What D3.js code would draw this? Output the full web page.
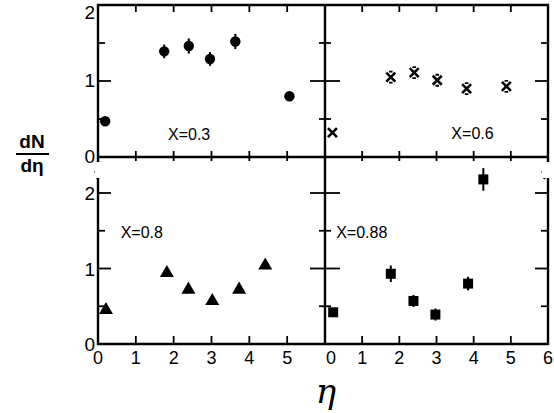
<!DOCTYPE html>
<html><head><meta charset="utf-8">
<script src="https://cdn.jsdelivr.net/npm/d3@7"></script>
<style>body{margin:0;background:#fff}svg{display:block}</style></head>
<body><svg id="c" width="554" height="413"></svg>
<script>
// ---- data ----
const xTickValues = [0,1,2,3,4,5,6];
const yMajorTicks = [0,1,2];
const yMinorTicks = [0.5,1.5];

const eta03 = [0.19,1.75,2.40,2.96,3.63,5.06];
const dn03  = [0.47,1.39,1.46,1.29,1.52,0.80];
const err03 = [0,0.09,0.10,0.09,0.10,0];

const eta06 = [0.20,1.77,2.40,3.02,3.81,4.88];
const dn06  = [0.32,1.05,1.11,1.01,0.90,0.93];
const err06 = [0,0.05,0.05,0.05,0.05,0.05];

const eta08 = [0.21,1.82,2.39,3.02,3.73,4.42];
const dn08  = [0.45,0.94,0.72,0.57,0.72,1.04];

const eta088 = [0.22,1.77,2.38,2.97,3.85,4.26];
const dn088  = [0.42,0.93,0.57,0.39,0.80,2.18];
const err088 = [0,0.11,0.08,0.08,0.09,0.15];

const panelLabels = ["X=0.3","X=0.6","X=0.8","X=0.88"];

// ---- layout ----
const svg = d3.select("#c");
const L = 98, M = 325, R = 548, T = 5, Y0top = 157, B = 344;
const xL = d3.scaleLinear().domain([0,6]).range([L,M]);
const xR = d3.scaleLinear().domain([0,6]).range([M,R]);
const yT = d3.scaleLinear().domain([0,2]).range([Y0top,T]);
const yB = d3.scaleLinear().domain([0,2]).range([B,193]);

const g = svg.append("g").attr("fill","none").attr("stroke","#000");
const font = "'Liberation Sans', Arial, sans-serif";

// frame lines
g.append("path").attr("stroke-width",2.4)
 .attr("d",`M${L},${T}H${R}V${B}H${L}Z M${M},${T}V${B} M${L},${Y0top}H${R}`);

// x tick marks
function xTicks(sc){
  [1,2,3,4,5].forEach(v=>{
    const x = sc(v);
    g.append("line").attr("x1",x).attr("x2",x).attr("y1",T).attr("y2",T+7).attr("stroke-width",1.8);
    g.append("line").attr("x1",x).attr("x2",x).attr("y1",Y0top-6).attr("y2",Y0top+4).attr("stroke-width",1.8);
    g.append("line").attr("x1",x).attr("x2",x).attr("y1",B).attr("y2",B-8).attr("stroke-width",1.8);
  });
}
xTicks(xL); xTicks(xR);

// y tick marks
function yTicks(sc, vals){
  vals.forEach(v=>{
    const y = sc(v), major = Number.isInteger(v);
    const len = major ? 13 : 7;
    g.append("line").attr("x1",L).attr("x2",L+len).attr("y1",y).attr("y2",y).attr("stroke-width",1.8);
    g.append("line").attr("x1",R).attr("x2",R-len).attr("y1",y).attr("y2",y).attr("stroke-width",1.8);
    const ml = major ? 15 : 6;
    g.append("line").attr("x1",M-ml).attr("x2",M+ml).attr("y1",y).attr("y2",y).attr("stroke-width",1.8);
  });
}
yTicks(yT, [0.5,1,1.5]);
yTicks(yB, [0.5,1,1.5,2]);

// break marks
[L, R-3].forEach(bx=>{
  svg.append("rect").attr("x",bx-3).attr("y",162).attr("width",8).attr("height",16).attr("fill","#fff");
  g.append("path").attr("stroke-width",2.2)
   .attr("d",`M${bx+3},162 L${bx-2},171 L${bx+3},170 L${bx-1},179`);
});

// tick labels
const t = svg.append("g").attr("font-family",font).attr("fill","#000");
xTickValues.filter(v=>v<6).forEach(v=>{
  t.append("text").attr("x",xL(v)).attr("y",364).attr("text-anchor","middle").attr("font-size",18).text(v);
});
xTickValues.forEach(v=>{
  t.append("text").attr("x",xR(v)+(v===0?6:0)).attr("y",364).attr("text-anchor","middle").attr("font-size",18).text(v);
});
yMajorTicks.forEach(v=>{
  t.append("text").attr("x",L-3).attr("y",v===2?19:yT(v)+6).attr("text-anchor","end").attr("font-size",19).text(v);
  t.append("text").attr("x",L-3).attr("y",yB(v)+7).attr("text-anchor","end").attr("font-size",19).text(v);
});

// axis titles
t.append("text").attr("x",32).attr("y",148).attr("text-anchor","middle").attr("font-size",19).attr("font-weight","bold").text("dN");
svg.append("line").attr("x1",16).attr("x2",49).attr("y1",154).attr("y2",154).attr("stroke","#000").attr("stroke-width",2);
t.append("text").attr("x",32).attr("y",172).attr("text-anchor","middle").attr("font-size",19).attr("font-weight","bold").text("dη");
t.append("text").attr("x",326).attr("y",403).attr("text-anchor","middle").attr("font-size",34)
 .attr("font-family","'DejaVu Serif', 'Liberation Serif', serif").attr("font-style","italic").text("η");

// panel labels
const lbl = [[xL(1.85),yT(0.3)],[xR(3.4),yT(0.31)],[xL(0.6),yB(1.48)],[xR(0.3),yB(1.48)]];
panelLabels.forEach((s,i)=>{
  t.append("text").attr("x",lbl[i][0]).attr("y",lbl[i][1]+6).attr("font-size",16).text(s);
});

// error bars
function errBars(xs, ys, es, sx, sy){
  xs.forEach((x,i)=>{
    if(!es[i]) return;
    g.append("line").attr("x1",sx(x)).attr("x2",sx(x)).attr("y1",sy(ys[i]-es[i])).attr("y2",sy(ys[i]+es[i])).attr("stroke-width",2);
  });
}

// X=0.3 circles
errBars(eta03,dn03,err03,xL,yT);
svg.selectAll(".c03").data(eta03).join("circle").attr("cx",d=>xL(d)).attr("cy",(d,i)=>yT(dn03[i])).attr("r",5.2).attr("fill","#000");

// X=0.6 crosses
eta06.forEach((e,i)=>{
  const cx = xR(e), cy = yT(dn06[i]), s = 4.5;
  g.append("path").attr("stroke-width",2.6).attr("d",`M${cx-s},${cy-s}L${cx+s},${cy+s}M${cx-s},${cy+s}L${cx+s},${cy-s}`);
  if(err06[i]){
    g.append("path").attr("stroke-width",1.8).attr("d",`M${cx-1.8},${cy-s-1}H${cx+1.8}M${cx-1.8},${cy+s+1}H${cx+1.8}`);
  }
});

// X=0.8 triangles
const tri = d3.symbol().type(d3.symbolTriangle).size(85);
svg.selectAll(".t08").data(eta08).join("path").attr("d",tri)
 .attr("transform",(d,i)=>`translate(${xL(d)},${yB(dn08[i])})`).attr("fill","#000");

// X=0.88 squares
errBars(eta088,dn088,err088,xR,yB);
svg.selectAll(".s088").data(eta088).join("rect")
 .attr("x",d=>xR(d)-5).attr("y",(d,i)=>yB(dn088[i])-5).attr("width",10).attr("height",10).attr("fill","#000");
</script></body></html>
